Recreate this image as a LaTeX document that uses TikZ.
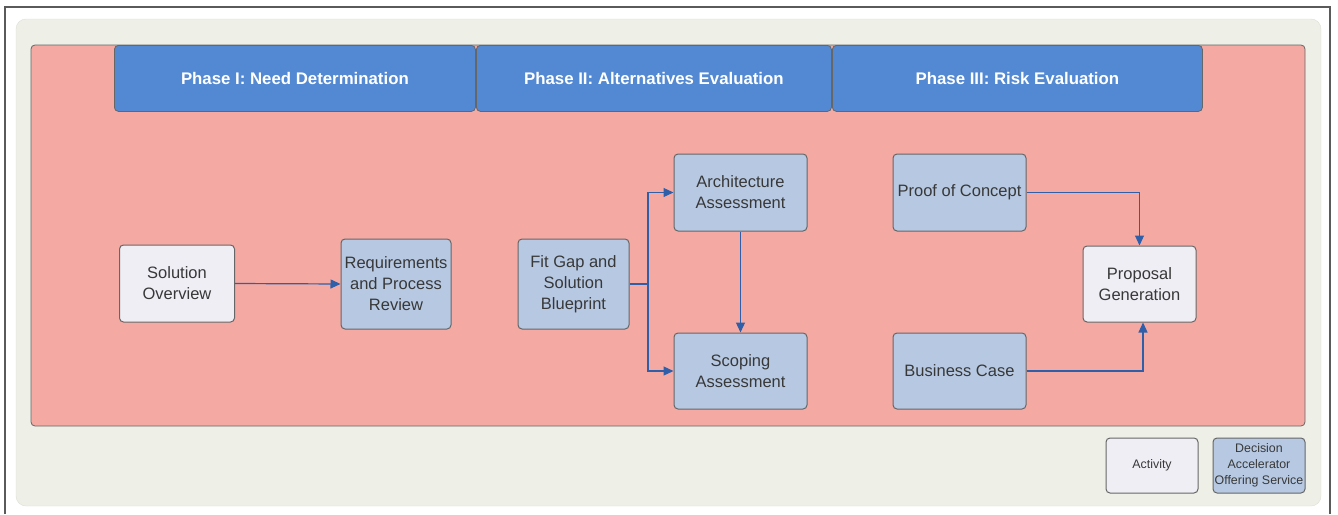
\documentclass[tikz,border=0pt]{standalone}
\usepackage{fontspec}
\setmainfont{Liberation Sans}
\usetikzlibrary{arrows.meta}
\definecolor{framegray}{HTML}{5A5A5A}
\definecolor{panelbg}{HTML}{EEEFE7}
\definecolor{panelline}{HTML}{DEDFD7}
\definecolor{phasebg}{HTML}{F4AAA3}
\definecolor{headblue}{HTML}{5389D3}
\definecolor{actfill}{HTML}{F0EEF5}
\definecolor{svcfill}{HTML}{B7C9E2}
\definecolor{boxline}{HTML}{666666}
\definecolor{txt}{HTML}{383838}
\definecolor{flow}{HTML}{2F5FA8}
\tikzset{
  x=1pt, y=-1pt,
  header/.style={draw=boxline, fill=headblue, rounded corners=4pt, line width=0.8pt,
    text=white, font=\fontsize{16.8}{19}\selectfont\bfseries, anchor=north west},
  box/.style={draw=boxline, line width=1pt, rounded corners=4pt, text=txt,
    align=center, font=\fontsize{16.5}{21}\selectfont, inner sep=1pt},
  activity/.style={box, fill=actfill},
  service/.style={box, fill=svcfill},
  legendbox/.style={box, font=\fontsize{12.4}{16}\selectfont, minimum width=92pt, minimum height=55pt},
  flowline/.style={draw=flow, line width=1.2pt, -{Triangle[length=10pt,width=9pt]}},
}
\begin{document}
\begin{tikzpicture}
\useasboundingbox (0,0) rectangle (1338,514);
% page frame
\draw[framegray, line width=1.2pt] (5,514) -- (5,7) -- (1330,7) -- (1330,514);
% panel and phase area
\draw[panelline, fill=panelbg, rounded corners=10pt] (16,19) rectangle (1321,506);
\draw[boxline, fill=phasebg, rounded corners=4pt, line width=0.8pt] (31,45) rectangle (1305,426);
% phase headers
\node[header, minimum width=361pt, minimum height=66pt] (h1) at (114,45) {Phase I: Need Determination};
\node[header, minimum width=355pt, minimum height=66pt] (h2) at (476,45) {Phase II: Alternatives Evaluation};
\node[header, minimum width=370pt, minimum height=66pt] (h3) at (832,45) {Phase III: Risk Evaluation};
% activities and services
\node[activity, minimum width=115pt, minimum height=77pt] (so) at (177,283.5) {Solution\\Overview};
\node[service, minimum width=110pt, minimum height=90pt] (rq) at (396,284) {Requirements\\and Process\\Review};
\node[service, minimum width=111pt, minimum height=90pt] (fg) at (573.5,284) {Fit Gap and\\Solution\\Blueprint};
\node[service, minimum width=133pt, minimum height=77pt] (aa) at (740.5,192.5) {Architecture\\Assessment};
\node[service, minimum width=133pt, minimum height=76pt] (sa) at (740.5,371) {Scoping\\Assessment};
\node[service, minimum width=133pt, minimum height=77pt] (pc) at (959.5,192.5) {Proof of Concept};
\node[service, minimum width=133pt, minimum height=76pt] (bc) at (959.5,371) {Business Case};
\node[activity, minimum width=113pt, minimum height=76pt] (pg) at (1139.5,284) {Proposal\\Generation};
% flows
\coordinate (br) at (648,284);
\draw[flowline] (so.east) -- (rq.west);
\draw[flowline] (fg.east) -- (br) |- (aa.west);
\draw[flowline] (br) |- (sa.west);
\draw[flowline] (aa.south) -- (sa.north);
\draw[flowline] (pc.east) -| (pg.north);
\draw[flowline] (bc.east) -| ([xshift=3.5pt]pg.south);
% legend
\node[legendbox, fill=actfill] (la) at (1152,465.5) {Activity};
\node[legendbox, fill=svcfill, inner sep=0pt] (ls) at (1259,465.5) {Decision\\Accelerator\\Offering Service};
\end{tikzpicture}
\end{document}
